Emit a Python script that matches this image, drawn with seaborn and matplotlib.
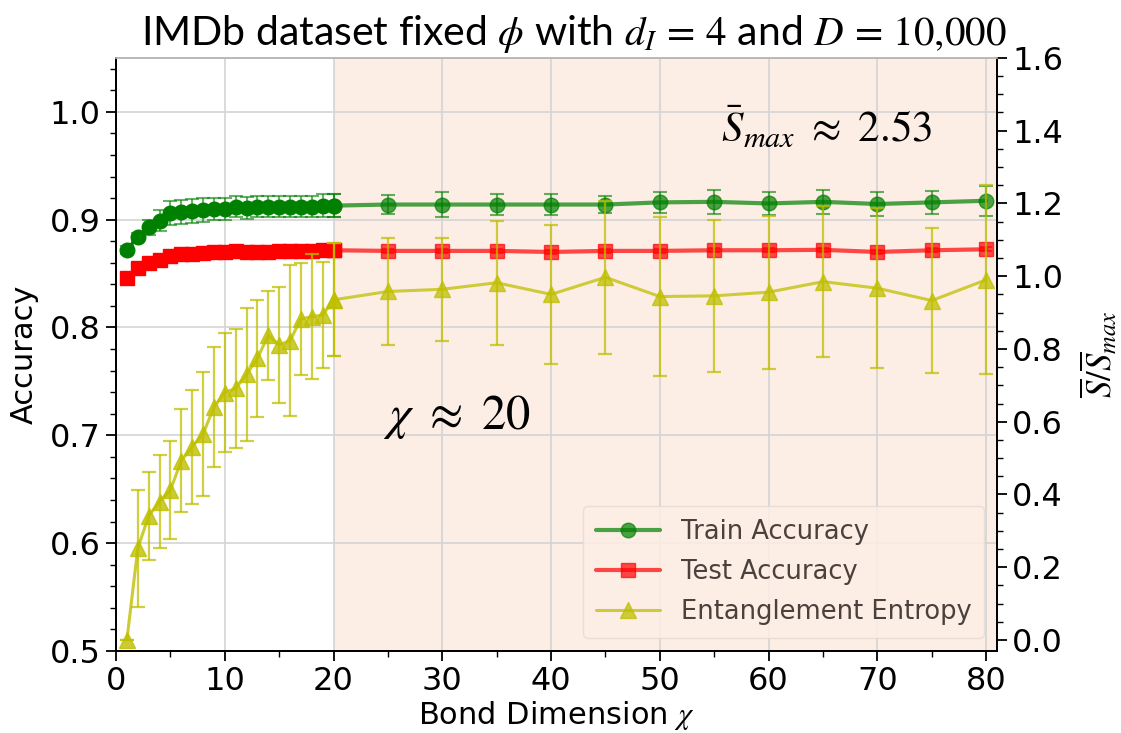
import matplotlib
matplotlib.use("Agg")
import matplotlib.pyplot as plt
import seaborn as sns
from matplotlib.ticker import MultipleLocator

# ---------------- data ----------------
chi_dense = list(range(1, 21))
chi_sparse = [20, 25, 30, 35, 40, 45, 50, 55, 60, 65, 70, 75, 80]

train_dense = [0.872, 0.884, 0.893, 0.899, 0.906, 0.907, 0.908, 0.909, 0.910, 0.910,
               0.912, 0.911, 0.912, 0.912, 0.912, 0.912, 0.912, 0.912, 0.913, 0.913]
train_dense_err = [0.004, 0.004, 0.007, 0.010, 0.011, 0.011, 0.011, 0.011, 0.010, 0.010,
                   0.010, 0.010, 0.010, 0.010, 0.010, 0.010, 0.010, 0.010, 0.011, 0.011]
train_sparse = [0.913, 0.914, 0.914, 0.914, 0.914, 0.914, 0.916, 0.9165, 0.915, 0.9165,
                0.9145, 0.916, 0.9175]
train_sparse_err = [0.011, 0.009, 0.012, 0.010, 0.010, 0.0075, 0.010, 0.011, 0.0105, 0.011,
                    0.0107, 0.011, 0.014]

test_dense = [0.846, 0.855, 0.860, 0.863, 0.866, 0.868, 0.8685, 0.8695, 0.870, 0.870,
              0.871, 0.870, 0.870, 0.870, 0.8705, 0.871, 0.871, 0.871, 0.8716, 0.8716]
test_dense_err = [0.002] * 20
test_sparse = [0.8716, 0.871, 0.871, 0.871, 0.870, 0.871, 0.871, 0.8716, 0.8716, 0.872,
               0.870, 0.8716, 0.8725]
test_sparse_err = [0.002] * 13

ent_dense = [0.0, 0.252, 0.341, 0.380, 0.412, 0.493, 0.531, 0.566, 0.640, 0.680,
             0.692, 0.730, 0.774, 0.838, 0.811, 0.823, 0.882, 0.889, 0.893, 0.935]
ent_dense_err = [0.0, 0.16, 0.12, 0.128, 0.135, 0.142, 0.156, 0.170, 0.165, 0.163,
                 0.164, 0.182, 0.160, 0.122, 0.160, 0.208, 0.153, 0.172, 0.145, 0.155]
ent_sparse = [0.935, 0.958, 0.964, 0.982, 0.950, 0.997, 0.944, 0.946, 0.956, 0.985,
              0.967, 0.933, 0.990]
ent_sparse_err = [0.155, 0.147, 0.141, 0.170, 0.192, 0.210, 0.218, 0.208, 0.210, 0.208,
                  0.220, 0.200, 0.260]

labels = ["Train Accuracy", "Test Accuracy", "Entanglement Entropy"]

# ---------------- style ----------------
sns.set_theme(style="whitegrid", rc={"axes.edgecolor": "black", "grid.color": "#d4d4d4",
                                     "grid.linewidth": 1.2, "text.color": "black",
                                     "axes.labelcolor": "black"})
plt.rcParams["font.family"] = ["DejaVu Sans"]
plt.rcParams["mathtext.fontset"] = "stix"

fig = plt.figure(figsize=(11.21, 7.33), dpi=100)
ax = fig.add_axes([0.1035, 0.112, 0.7859, 0.809])
ax2 = ax.twinx()

ax.axvspan(20, 81, color="#fcede5", zorder=0.1, lw=0)
ax.set_axisbelow(True)

GREEN, RED, YEL = "green", "red", "#bfbf00"

# error bars
ax.errorbar(chi_dense, train_dense, yerr=train_dense_err, fmt="none", ecolor=GREEN,
            alpha=0.6, elinewidth=1.5, capsize=5, capthick=1.5, zorder=2)
ax.errorbar(chi_sparse, train_sparse, yerr=train_sparse_err, fmt="none", ecolor=GREEN,
            alpha=0.6, elinewidth=1.5, capsize=5, capthick=1.5, zorder=2)
ax.errorbar(chi_dense, test_dense, yerr=test_dense_err, fmt="none", ecolor=RED,
            alpha=0.6, elinewidth=1.5, capsize=4, capthick=1.5, zorder=2)
ax.errorbar(chi_sparse, test_sparse, yerr=test_sparse_err, fmt="none", ecolor=RED,
            alpha=0.6, elinewidth=1.5, capsize=4, capthick=1.5, zorder=2)
ax2.errorbar(chi_dense, ent_dense, yerr=ent_dense_err, fmt="none", ecolor=YEL,
             alpha=0.75, elinewidth=1.6, capsize=5, capthick=1.6, zorder=2)
ax2.errorbar(chi_sparse, ent_sparse, yerr=ent_sparse_err, fmt="none", ecolor=YEL,
             alpha=0.75, elinewidth=1.6, capsize=5, capthick=1.6, zorder=2)

# lines + markers
sns.lineplot(x=chi_dense, y=train_dense, ax=ax, color=GREEN, marker="o", markersize=10.5,
             linewidth=2.5, markeredgecolor=GREEN, markeredgewidth=1, zorder=3)
sns.lineplot(x=chi_sparse, y=train_sparse, ax=ax, color=GREEN, marker="o", markersize=10.5,
             linewidth=3, alpha=0.7, markeredgecolor=GREEN, markeredgewidth=1, zorder=3,
             label=labels[0])
sns.lineplot(x=chi_dense, y=test_dense, ax=ax, color=RED, marker="s", markersize=10,
             linewidth=2.5, markeredgecolor=RED, markeredgewidth=1, zorder=3)
sns.lineplot(x=chi_sparse, y=test_sparse, ax=ax, color=RED, marker="s", markersize=10,
             linewidth=3, alpha=0.7, markeredgecolor=RED, markeredgewidth=1, zorder=3,
             label=labels[1])
sns.lineplot(x=chi_dense, y=ent_dense, ax=ax2, color=YEL, marker="^", markersize=12,
             linewidth=2.2, alpha=0.8, markeredgecolor=YEL, markeredgewidth=1, zorder=3)
sns.lineplot(x=chi_sparse, y=ent_sparse, ax=ax2, color=YEL, marker="^", markersize=12,
             linewidth=2.2, alpha=0.75, markeredgecolor=YEL, markeredgewidth=1, zorder=3,
             label=labels[2])

h1, l1 = ax.get_legend_handles_labels()
h2, l2 = ax2.get_legend_handles_labels()
if ax.get_legend():
    ax.get_legend().remove()
if ax2.get_legend():
    ax2.get_legend().remove()

# axes limits / ticks
ax.set_xlim(0, 81)
ax.set_ylim(0.5, 1.05)
ax2.set_ylim(-0.03, 1.6)
ax.xaxis.set_major_locator(MultipleLocator(10))
ax.xaxis.set_minor_locator(MultipleLocator(5))
ax.yaxis.set_major_locator(MultipleLocator(0.1))
ax.yaxis.set_minor_locator(MultipleLocator(0.02))
ax2.yaxis.set_major_locator(MultipleLocator(0.2))
ax2.yaxis.set_minor_locator(MultipleLocator(0.05))

ax.grid(True, which="major", color="#d4d4d4", linewidth=1.2)
ax2.grid(False)

ax.tick_params(axis="both", which="major", direction="out", length=7, width=1.3,
               labelsize=23, bottom=True, left=True, colors="black", pad=4)
ax.tick_params(axis="both", which="minor", direction="out", length=4, width=1.0,
               bottom=True, left=True, colors="black")
ax2.tick_params(axis="y", which="major", direction="out", length=7, width=1.3,
                labelsize=23, right=True, colors="black", pad=4)
ax2.tick_params(axis="y", which="minor", direction="out", length=4, width=1.0,
                right=True, colors="black")

for a in (ax, ax2):
    a.spines["top"].set_color("#b8b8b8")
    for s in ("left", "right", "bottom"):
        a.spines[s].set_color("black")
        a.spines[s].set_linewidth(1.3)

ax.set_xlabel(r"Bond Dimension $\chi$", fontsize=22, labelpad=1)
ax.set_ylabel("Accuracy", fontsize=22, labelpad=8)
ax2.set_ylabel(r"$\overline{S}/\overline{S}_{max}$", fontsize=25, labelpad=10)

# annotations
fig.text(0.7377, 0.8254, r"$\bar{S}_{max}\ \approx\ 2.53$", fontsize=31,
         ha="center", va="center")
fig.text(0.4077, 0.431, r"$\chi\ \approx\ 20$", fontsize=35, ha="center", va="center")

fig.text(0.512, 0.953, r"IMDb dataset fixed $\phi$ with $d_I\,=\,4$ and $D\,=\,10{,}000$",
         fontsize=29.5, ha="center", va="center",
         family=["Lato", "DejaVu Sans"])

leg = ax2.legend(h1 + h2, l1 + l2, loc="lower right", fontsize=18.5, frameon=True,
                 facecolor="#fcede5", edgecolor="#e6dcd6", framealpha=0.9,
                 handlelength=2.5, labelcolor="#4a403c", borderpad=0.5,
                 labelspacing=0.55)

fig.savefig("out.png", dpi=100)
